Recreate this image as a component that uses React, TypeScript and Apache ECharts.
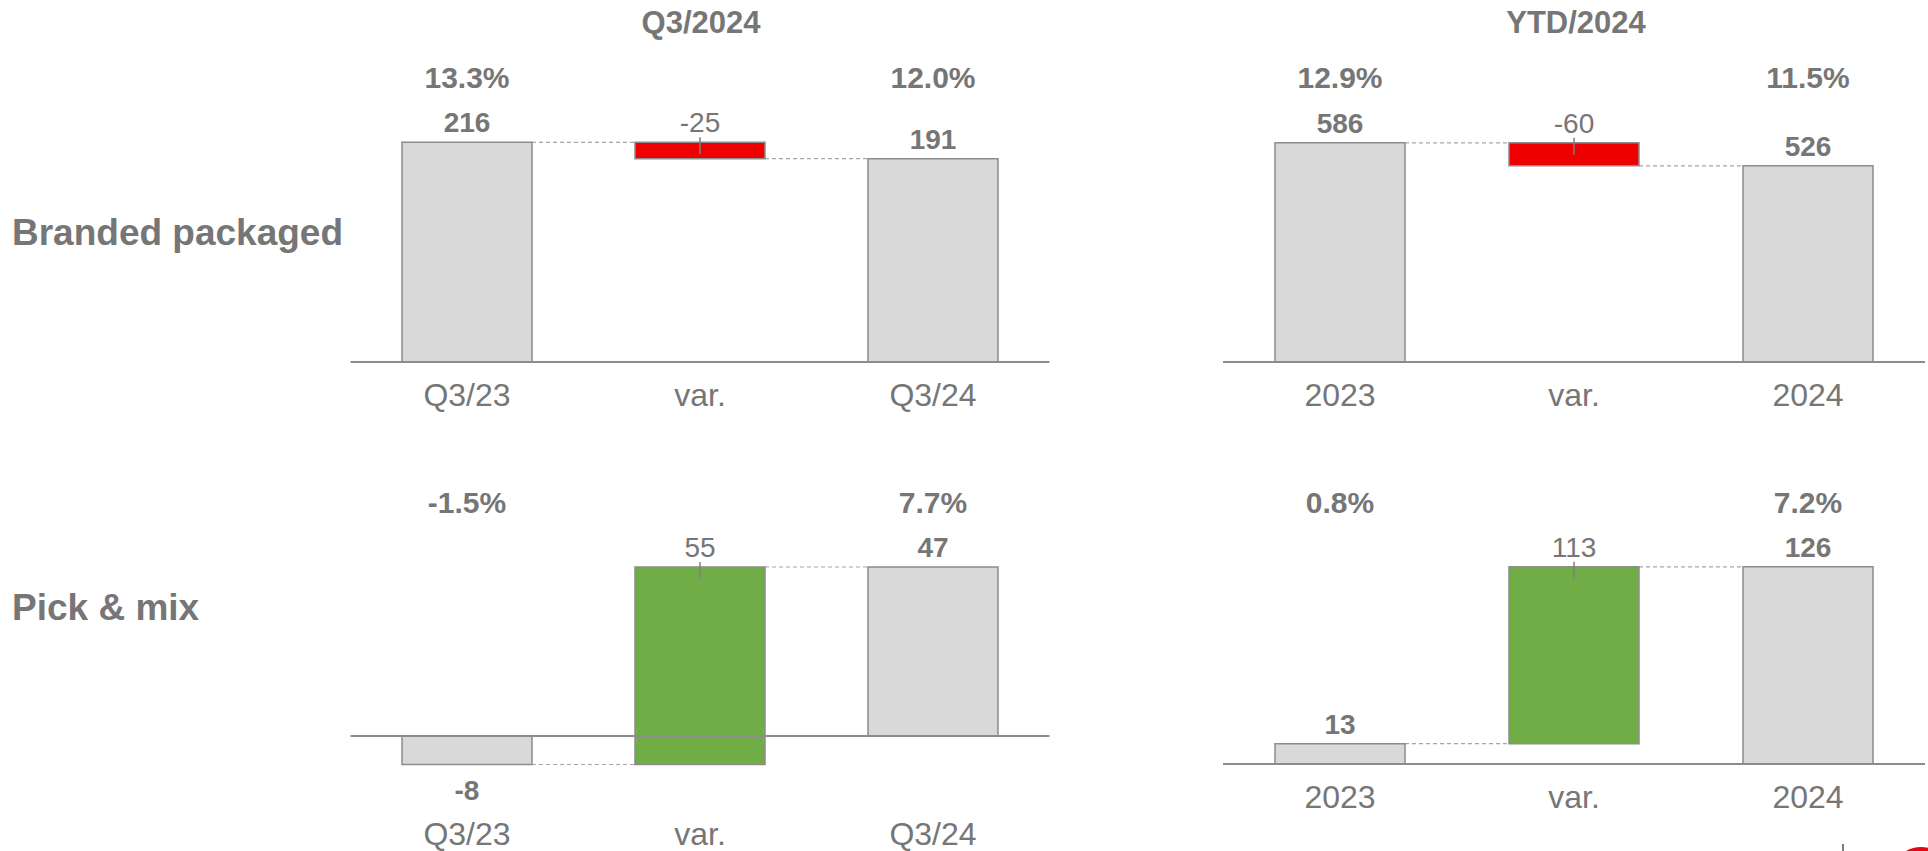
import React, { useEffect, useRef } from "react";
import * as echarts from "echarts";

// ---- data ----
const rowLabels = ["Branded packaged", "Pick & mix"];
const periodTitles = ["Q3/2024", "YTD/2024"];
const q3Categories = ["Q3/23", "var.", "Q3/24"];
const ytdCategories = ["2023", "var.", "2024"];
// [start, variance, end]
const brandedQ3 = [216, -25, 191];
const brandedYtd = [586, -60, 526];
const pickQ3 = [-8, 55, 47];
const pickYtd = [13, 113, 126];
// margins shown above start / end bars
const brandedQ3Margin = ["13.3%", "12.0%"];
const brandedYtdMargin = ["12.9%", "11.5%"];
const pickQ3Margin = ["-1.5%", "7.7%"];
const pickYtdMargin = ["0.8%", "7.2%"];

const FONT = "'Liberation Sans', Arial, Helvetica, sans-serif";
const TXT = "#767676";
const BAR_FILL = "#d9d9d9";
const BAR_STROKE = "#8c8c8c";
const RED = "#ee0000";
const GREEN = "#70ad47";
const BAR_W = 130;

type Panel = {
  grid: { left: number; top: number; width: number; height: number };
  yMin: number;
  yMax: number;
  base: number;
  labelMargin: number;
  cats: string[];
  vals: number[];
  pct: string[];
};

const panels: Panel[] = [
  { grid: { left: 350.5, top: 100, width: 699, height: 261.7 }, yMin: -118.5, yMax: 280.5, base: -118.5, labelMargin: 17, cats: q3Categories, vals: brandedQ3, pct: brandedQ3Margin },
  { grid: { left: 1223, top: 100, width: 702, height: 261.7 }, yMin: 15, yMax: 697.8, base: 15, labelMargin: 17, cats: ytdCategories, vals: brandedYtd, pct: brandedYtdMargin },
  { grid: { left: 350.5, top: 525, width: 699, height: 279 }, yMin: -19, yMax: 58.7, base: 0, labelMargin: 14, cats: q3Categories, vals: pickQ3, pct: pickQ3Margin },
  { grid: { left: 1223, top: 525, width: 702, height: 239 }, yMin: 0, yMax: 152.7, base: 0, labelMargin: 17, cats: ytdCategories, vals: pickYtd, pct: pickYtdMargin },
];

function buildOption() {
  const grid: any[] = [];
  const xAxis: any[] = [];
  const yAxis: any[] = [];
  const series: any[] = [];

  panels.forEach((p, i) => {
    grid.push({ ...p.grid, containLabel: false });
    xAxis.push({
      type: "category",
      gridIndex: i,
      data: p.cats,
      position: "bottom",
      axisLine: { show: false },
      axisTick: { show: false },
      axisLabel: { interval: 0, fontSize: 32, color: TXT, fontFamily: FONT, margin: p.labelMargin },
    });
    xAxis.push({
      type: "category",
      gridIndex: i,
      data: [p.pct[0], "", p.pct[1]],
      position: "top",
      axisLine: { show: false },
      axisTick: { show: false },
      axisLabel: { interval: 0, fontSize: 30, fontWeight: "bold", color: TXT, fontFamily: FONT, margin: 8 },
    });
    yAxis.push({
      type: "value",
      gridIndex: i,
      min: p.yMin,
      max: p.yMax,
      show: false,
      splitLine: { show: false },
    });

    const xi = i * 2;
    const start = p.vals[0];
    const delta = p.vals[1];
    const end = p.vals[2];
    const base = p.base;

    // axis baseline
    series.push({
      type: "line",
      xAxisIndex: xi,
      yAxisIndex: i,
      data: [],
      z: 1,
      silent: true,
      markLine: {
        silent: true,
        symbol: ["none", "none"],
        label: { show: false },
        lineStyle: { color: BAR_STROKE, width: 2, type: "solid" },
        data: [{ yAxis: base }],
      },
    });

    // connectors
    series.push({
      type: "custom",
      xAxisIndex: xi,
      yAxisIndex: i,
      z: 2,
      silent: true,
      data: [
        [0, start],
        [1, end],
      ],
      renderItem: (params: any, api: any) => {
        const c = api.value(0);
        const v = api.value(1);
        const a = api.coord([c, v]);
        const b = api.coord([c + 1, v]);
        return {
          type: "line",
          shape: { x1: a[0] + BAR_W / 2, y1: a[1], x2: b[0] - BAR_W / 2, y2: b[1] },
          style: { stroke: "#a6a6a6", lineWidth: 1.2, lineDash: [4, 3] },
        };
      },
    });

    // total bars
    series.push({
      type: "custom",
      xAxisIndex: xi,
      yAxisIndex: i,
      z: 3,
      silent: true,
      data: [
        [0, start],
        [2, end],
      ],
      renderItem: (params: any, api: any) => {
        const c = api.value(0);
        const v = api.value(1);
        const t = api.coord([c, v]);
        const b = api.coord([c, base]);
        return {
          type: "rect",
          shape: { x: t[0] - BAR_W / 2, y: Math.min(t[1], b[1]), width: BAR_W, height: Math.abs(b[1] - t[1]) },
          style: { fill: BAR_FILL, stroke: BAR_STROKE, lineWidth: 1.5 },
        };
      },
    });

    // variance bar
    series.push({
      type: "custom",
      xAxisIndex: xi,
      yAxisIndex: i,
      z: 3,
      silent: true,
      data: [[1, start, end]],
      renderItem: (params: any, api: any) => {
        const c = api.value(0);
        const s = api.coord([c, api.value(1)]);
        const e = api.coord([c, api.value(2)]);
        const top = Math.min(s[1], e[1]);
        const h = Math.abs(s[1] - e[1]);
        return {
          type: "group",
          children: [
            {
              type: "rect",
              shape: { x: s[0] - BAR_W / 2, y: top, width: BAR_W, height: h },
              style: { fill: delta < 0 ? RED : GREEN, stroke: BAR_STROKE, lineWidth: 1.5 },
            },
            {
              type: "line",
              shape: { x1: s[0], y1: top - 5, x2: s[0], y2: top + 12 },
              style: { stroke: "#7f7f7f", lineWidth: 1.5 },
            },
          ],
        };
      },
    });

    // value labels
    const lbl = (txt: string, neg: boolean, bold: boolean) => ({
      show: true,
      formatter: txt,
      position: neg ? "bottom" : "top",
      distance: neg ? 11 : 5,
      fontSize: 28,
      fontWeight: bold ? "bold" : "normal",
      color: TXT,
      opacity: 1,
      fontFamily: FONT,
    });
    series.push({
      type: "scatter",
      xAxisIndex: xi,
      yAxisIndex: i,
      z: 5,
      silent: true,
      symbol: "circle",
      symbolSize: 1,
      itemStyle: { color: "rgba(255,255,255,0)", opacity: 1 },
      data: [
        { value: [0, start], label: lbl(String(start), start < 0, true) },
        { value: [1, Math.max(start, end)], label: lbl(String(delta), false, false) },
        { value: [2, end], label: lbl(String(end), end < 0, true) },
      ],
    });
  });

  const graphic: any[] = [
    {
      type: "text",
      x: 701,
      y: 22,
      style: { text: periodTitles[0], font: `bold 31px ${FONT}`, fill: TXT, textAlign: "center", textVerticalAlign: "middle" },
    },
    {
      type: "text",
      x: 1576,
      y: 22,
      style: { text: periodTitles[1], font: `bold 31px ${FONT}`, fill: TXT, textAlign: "center", textVerticalAlign: "middle" },
    },
    {
      type: "text",
      x: 12,
      y: 232,
      style: { text: rowLabels[0], font: `bold 37px ${FONT}`, fill: TXT, textAlign: "left", textVerticalAlign: "middle" },
    },
    {
      type: "text",
      x: 12,
      y: 607,
      style: { text: rowLabels[1], font: `bold 37px ${FONT}`, fill: TXT, textAlign: "left", textVerticalAlign: "middle" },
    },
    {
      type: "line",
      shape: { x1: 1843, y1: 844, x2: 1843, y2: 851 },
      style: { stroke: "#555", lineWidth: 1.5 },
    },
    {
      type: "ring",
      shape: { cx: 1921, cy: 877, r: 30, r0: 24 },
      style: { fill: "#e30613" },
    },
  ];

  return {
    animation: false,
    backgroundColor: "#ffffff",
    grid,
    xAxis,
    yAxis,
    series,
    graphic,
  };
}

export default function App() {
  const ref = useRef<HTMLDivElement>(null);
  useEffect(() => {
    if (!ref.current) return;
    const chart = echarts.init(ref.current, null, { renderer: "svg" });
    chart.setOption(buildOption() as any);
    return () => chart.dispose();
  }, []);
  return (
    <div
      ref={ref}
      style={{ position: "absolute", left: 0, top: 0, width: 1928, height: 851, background: "#fff" }}
    />
  );
}
